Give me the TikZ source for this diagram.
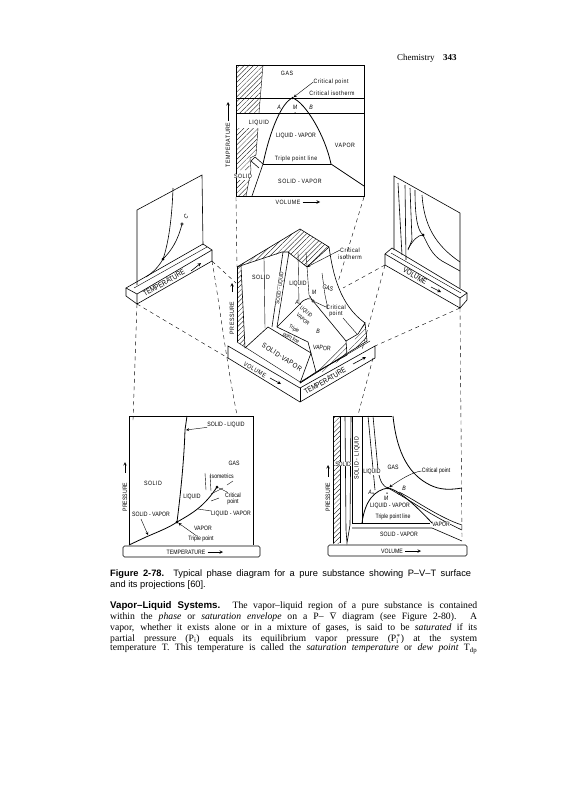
\documentclass[tikz,border=0pt]{standalone}
\usepackage{fontspec}
\setmainfont{Liberation Serif}
\setsansfont{Liberation Sans}
\newfontfamily\widefam[LetterSpace=8,FakeStretch=0.85]{Liberation Sans}
\newfontfamily\lblfam[FakeStretch=0.82]{Liberation Sans}
\usetikzlibrary{patterns.meta}
\tikzset{
  lbl/.style = {font = \lblfam\fontsize{6.3}{7}\selectfont, inner sep = 0pt},
  lblw/.style = {font = \widefam\fontsize{6.2}{7}\selectfont, inner sep = 0pt},
  lblit/.style = {font = \lblfam\itshape\fontsize{6.3}{7}\selectfont, inner sep = 0pt},
  lblbig/.style = {font = \lblfam\fontsize{7.6}{8}\selectfont, inner sep = 0pt},
  lblsm/.style = {font = \lblfam\fontsize{5.4}{6}\selectfont, inner sep = 0pt},
  page/.style = {anchor = west, inner sep = 0pt},
  hatch/.style = {pattern = {Lines[angle = 45, distance = 3.4pt, line width = 0.3pt]}, draw = none},
  ruled/.style = {line width = 0.6pt},
  thin rule/.style = {line width = 0.4pt},
  heavy/.style = {line width = 0.8pt},
  tag/.style = {->, line width = 0.6pt, shorten <= 2pt},
  guide/.style = {line width = 0.4pt, dash pattern = on 4pt off 3.5pt},
  pt/.style = {circle, fill = black, inner sep = 0pt, minimum size = 3pt}
}
\begin{document}
\begin{tikzpicture}[x = 1pt, y = -1pt, >=stealth]
\useasboundingbox (0,0) rectangle (566,800);
\node[anchor = west, inner sep = 0pt, font = \fontsize{9}{10}\selectfont] at (397,58) (head) {Chemistry};
\node[anchor = west, inner sep = 0pt, font = \bfseries\fontsize{9}{10}\selectfont] at (443,58) (pageno) {343};

% top panel
\fill[hatch] (236,65) -- (263,65) -- (259,113) -- (236,113) -- cycle;
\fill[hatch] (236,128) -- (258,128) -- (256,155) -- (250,158) -- (249,170) -- (236,170) -- cycle;
\fill[hatch] (236,180) -- (250,180) -- (246,196) -- (236,196) -- cycle;
\draw[ruled] (236,65) rectangle (364,196);
\draw[thin rule] (263,65) -- (259,113);
\draw[thin rule] (258,128) -- (256,155) -- (250,158) -- (251,170) -- (246,196);
\draw[heavy] (236,98) -- (364,98);
\draw[ruled] (236,113) -- (364,113);
\draw[heavy] (263,164) .. controls (270,130) and (282,102) .. (292.5,98) .. controls (305,102) and (325,135) .. (331,164) -- (364,186);
\draw[heavy] (263,164) -- (331,164);
\draw[ruled] (252,196) -- (263,164) -- (255,157) -- (251,161) -- (259,168);
\node[pt, minimum size = 2.5pt] at (292.5,98) (topcrit) {};
\node[pt, minimum size = 1.5pt] at (295,113) (topm) {};
\node[lblw] at (287,73) (topgas) {GAS};
\node[lblw] at (331,82) (topcp) {Critical point};
\node[lblw] at (332,93) (topci) {Critical isotherm};
\node[lblit] at (279,107) (topa) {A};
\node[lblit] at (295,107) (topmm) {M};
\node[lblit] at (311,107) (topb) {B};
\node[lblw, fill = white] at (259,123) (topliq) {LIQUID};
\node[lbl] at (296,136) (toplv) {LIQUID - VAPOR};
\node[lblw] at (345,145) (topvap) {VAPOR};
\node[lblw] at (296,159) (toptp) {Triple point line};
\node[lblw, fill = white] at (243,176) (topsol) {SOLID};
\node[lblw] at (300,181) (topsv) {SOLID - VAPOR};
\node[lblw] at (288,202) (topvol) {VOLUME};
\node[lblw, rotate = 90] at (228,145) (toptemp) {TEMPERATURE};
\coordinate (topvolend) at (320,202);
\coordinate (toptempend) at (228,102);
\draw[tag] (topvol) -- (topvolend);
\draw[tag] (toptemp) -- (toptempend);
\draw[->, thin rule] (topcp.west) -- (topcrit);

% guide lines
\coordinate (g1) at (236,197);
\coordinate (g2) at (237,267);
\coordinate (g3) at (364,197);
\coordinate (g4) at (338,282);
\coordinate (g5) at (212,261);
\coordinate (g6) at (236,283);
\coordinate (g7) at (237,415);
\coordinate (g8) at (137,304);
\coordinate (g9) at (133,420);
\coordinate (g10) at (228,358);
\coordinate (g11) at (385,265);
\coordinate (g12) at (343,288);
\coordinate (g13) at (362,350);
\coordinate (g14) at (460,308);
\coordinate (g15) at (375,346);
\coordinate (g16) at (462,540);
\coordinate (g17) at (373,358);
\coordinate (g18) at (358,415);
\draw[guide] (g1) -- (g2);
\draw[guide] (g3) -- (g4);
\draw[guide] (g5) -- (g6);
\draw[guide] (g5) .. controls (219,300) and (226,360) .. (g7);
\draw[guide] (g8) -- (g9);
\draw[guide] (g8) -- (g10);
\draw[guide] (g11) -- (g12);
\draw[guide] (g11) -- (g13);
\draw[guide] (g14) -- (g15);
\draw[guide] (g14) -- (g16);
\draw[guide] (g17) -- (g18);

% left wall
\draw[ruled] (137,285) -- (137,210) -- (202,175) -- (203,245);
\draw[ruled] (126,288) -- (203,244) -- (212,250) -- (137,294) -- cycle;
\draw[ruled] (137,294) -- (137,304) -- (212,261) -- (212,250);
\draw[ruled] (126,288) -- (126,296) -- (137,304);
\draw[thin rule] (134,288) -- (207,247);
\draw[ruled] (173,188) .. controls (172,220) and (168,245) .. (163,259) .. controls (158,268) and (152,273) .. (146,277);
\draw[ruled] (163,259) .. controls (172,250) and (178,240) .. (182,224);
\node[pt] at (163,259) (ltriple) {};
\node[circle, draw, fill = white, inner sep = 0pt, minimum size = 2.5pt] at (182,224) (lcrit) {};
\node[lblit, rotate = 45] at (186,217) (lc) {C};
\node[lblbig, rotate = 30] at (164,283) (ltemp) {TEMPERATURE};
\coordinate (ltempend) at (201,263);
\draw[->, ruled] (191,271) -- (ltempend);

% right wall
\draw[ruled] (394,250) -- (394,176) -- (460,213) -- (460,288);
\draw[ruled] (385,254) -- (392,248) -- (467,293) -- (460,298) -- cycle;
\draw[ruled] (385,254) -- (385,265) -- (460,308) -- (460,298);
\draw[ruled] (467,293) -- (467,300) -- (460,308);
\draw[thin rule] (391,253) -- (461,293);
\draw[ruled] (398,183) -- (402,255);
\draw[ruled] (405,185) -- (406,260);
\draw[ruled] (410,188) -- (412,240) -- (408,250);
\draw[ruled] (415,190) .. controls (415,215) and (417,230) .. (423,235);
\draw[ruled] (408,249) .. controls (413,240) and (418,235) .. (423,235) .. controls (428,245) and (432,255) .. (442,261) -- (460,271);
\draw[ruled] (422,195) .. controls (424,225) and (435,245) .. (460,262);
\node[pt] at (423,235) (rcrit) {};
\node[lblbig, rotate = -30] at (415,276) (rvol) {VOLUME};
\coordinate (rvolend) at (441,292);
\draw[->, ruled] (431,287) -- (rvolend);

% surface and base
\fill[hatch] (237,267) -- (300,229) -- (329,247) -- (307,267) -- (287,251) -- cycle;
\fill[hatch] (237,267) -- (241,266) -- (245,348) -- (237,342) -- cycle;
\fill[hatch] (358,334) -- (365,323) -- (367,341) -- (348,352) -- cycle;
\fill[hatch] (346,342) -- (347,355) -- (323,372) -- (316,372) -- cycle;
\draw[ruled] (237,267) -- (300,229) -- (329,247);
\draw[ruled] (237,267) -- (282,252) -- (288,252) -- (307,267);
\draw[ruled] (329,247) -- (307,267);
\draw[ruled] (237,267) -- (237,342);
\draw[ruled] (241,266) -- (245,348);
\draw[ruled] (228,346) -- (300,388) -- (375,346) -- (375,358) -- (300,402) -- (228,358) -- cycle;
\draw[ruled] (300,388) -- (300,402);
\draw[thin rule] (237,342) -- (300,382) -- (370,341);
\draw[ruled] (245,348) -- (268,327) -- (311,353) -- (300,383);
\draw[ruled] (277,327) -- (308,342);
\draw[ruled] (283,252) -- (272,327);
\draw[ruled] (289,252) -- (277,327);
\draw[thin rule] (264,258) -- (265,328);
\draw[thin rule] (298,252) -- (299,304);
\draw[thin rule] (306,252) -- (309,295) -- (313,301);
\draw[ruled] (329,247) .. controls (333,275) and (340,305) .. (365,323);
\draw[thin rule] (322,273) -- (325,295) -- (328,309);
\draw[thin rule] (343,318) -- (357,334);
\draw[ruled] (277,327) -- (300,304) .. controls (304,298) and (312,297) .. (313,301) -- (346,341) -- (347,355);
\draw[ruled] (308,342) -- (316,372) -- (300,383);
\draw[ruled] (316,372) -- (347,355);
\draw[ruled] (346,341) -- (358,334) -- (365,323) -- (367,341) -- (300,383);
\node[pt, minimum size = 1.5pt] at (300,304) (sa) {};
\node[pt, minimum size = 1.5pt] at (310,297) (sm) {};
\node[circle, draw, fill = white, inner sep = 0pt, minimum size = 2.5pt] at (313,301) (scrit) {};
\node[lblw] at (350,250) (sci1) {Critical};
\node[lblw] at (350,257) (sci2) {isotherm};
\node[lblw] at (336,307) (scp1) {Critical};
\node[lblw] at (336,314) (scp2) {point};
\node[lbl, rotate = -18, fill = white] at (328,288) (sgas) {GAS};
\node[lbl, fill = white] at (298,284) (sliq) {LIQUID};
\node[lblw] at (261,277) (ssol) {SOLID};
\node[lblsm, rotate = 82, fill = white] at (280,288) (ssl) {SOLID - LIQUID};
\node[lblit] at (314,292) (smm) {M};
\node[lblit] at (297,302) (saa) {A};
\node[lblit] at (318,331) (sb) {B};
\node[lblsm, rotate = -42] at (306,312) (slv1) {LIQUID};
\node[lblsm, rotate = -42] at (303,319) (slv2) {VAPOR};
\node[lblsm, rotate = -28] at (294,329) (stp1) {Triple};
\node[lblsm, rotate = -28] at (291,338) (stp2) {point line};
\node[lbl, rotate = -5] at (322,348) (svap) {VAPOR};
\node[lblw, rotate = -33, font = \widefam\fontsize{7}{8}\selectfont] at (282,357) (ssv) {SOLID-VAPOR};
\node[lblw, rotate = -30] at (255,370) (svol) {VOLUME};
\node[lblbig, rotate = 30] at (325,381) (stemp) {TEMPERATURE};
\node[lblw, rotate = 90] at (232,318) (spres) {PRESSURE};
\coordinate (svolend) at (281,384);
\coordinate (stempend) at (366,357);
\coordinate (spresend) at (232,283);
\draw[->, ruled] (270,378) -- (svolend);
\draw[->, ruled] (353,364) -- (stempend);
\draw[->, ruled] (232,292) -- (spresend);
\draw[->, thin rule] (sci1.west) -- (307,267);
\draw[thin rule] (scp1.west) -- (scrit);

% lower left panel
\draw[ruled] (129,545) -- (129,416) -- (253,416) -- (253,545);
\draw[ruled, rounded corners = 1.5pt] (123,546) rectangle (260,557);
\draw[heavy] (129,545) -- (146,537) .. controls (160,531) and (170,527) .. (177,522) .. controls (195,512) and (205,505) .. (217,487);
\draw[heavy] (177,522) .. controls (181,490) and (184,460) .. (185,430) -- (187,416);
\node[pt] at (177,522) (ptriple) {};
\node[pt] at (217,487) (pcrit) {};
\node[lbl] at (226,425) (psl) {SOLID - LIQUID};
\node[lbl] at (234,463) (pgas) {GAS};
\node[lbl] at (222,476) (piso) {Isometrics};
\node[lblw] at (153,483) (psol) {SOLID};
\node[lbl] at (192,497) (pliq) {LIQUID};
\node[lbl] at (233,495) (pcp1) {Critical};
\node[lbl] at (233,502) (pcp2) {point};
\node[lbl] at (151,514) (psv) {SOLID - VAPOR};
\node[lbl] at (231,514) (plv) {LIQUID - VAPOR};
\node[lbl] at (203,528) (pvap) {VAPOR};
\node[lbl] at (201,539) (ptp) {Triple point};
\node[lbl] at (186,552) (ptemp) {TEMPERATURE};
\node[lbl, rotate = 90] at (125,497) (ppres) {PRESSURE};
\coordinate (ptempend) at (223,552);
\coordinate (ppresstart) at (125,473);
\coordinate (ppresend) at (125,462);
\coordinate (psvend) at (148,535);
\coordinate (pslend) at (186,430);
\coordinate (plvend) at (198,509);
\draw[tag] (ptemp) -- (ptempend);
\draw[->, ruled] (ppresstart) -- (ppresend);
\draw[->, thin rule] (141,519) -- (psvend);
\draw[->, thin rule] (psl) -- (pslend);
\draw[->, thin rule] (ptp) -- (ptriple);
\draw[thin rule] (plv) -- (plvend);
\draw[thin rule] (pcp1) -- (pcrit);
\draw[thin rule] (205,473) -- (206,490);
\draw[thin rule] (210,475) -- (211,491);
\draw[thin rule] (227,485) -- (233,481);
\draw[thin rule] (211,501) -- (219,498);
\draw[thin rule] (211,494) -- (223,488);

% lower right panel
\fill[hatch] (333,416) -- (340,416) -- (340,543) -- (333,543) -- cycle;
\draw[ruled] (333,543) -- (333,416) -- (392,416);
\draw[ruled, rounded corners = 1.5pt] (328,545) rectangle (467,556);
\draw[ruled] (340,416) -- (340,543);
\draw[ruled] (345,416) -- (346,530) -- (347,543) -- (350,525) -- (351,416);
\draw[ruled] (352,416) -- (352,524);
\draw[ruled] (362,416) -- (362,523);
\draw[ruled] (368,416) -- (375,490);
\draw[ruled] (373,416) -- (378,470) .. controls (380,483) and (384,487) .. (388,488);
\draw[heavy] (393,416) .. controls (397,455) and (410,475) .. (430,485) .. controls (440,490) and (450,490) .. (462,488);
\draw[heavy] (362,523) .. controls (365,500) and (375,490) .. (388,488) .. controls (400,490) and (420,510) .. (432,523);
\draw[ruled] (352,523) -- (430,523);
\draw[ruled] (352,528) -- (432,528) -- (462,541);
\draw[ruled] (388,488) .. controls (410,500) and (430,515) .. (462,530);
\draw[ruled] (399,492) .. controls (415,500) and (440,518) .. (462,525);
\node[pt, minimum size = 2.5pt] at (388,488) (vcrit) {};
\node[pt, minimum size = 1.5pt] at (373,493) (va) {};
\node[pt, minimum size = 1.5pt] at (387,493) (vm) {};
\node[pt, minimum size = 1.5pt] at (399,494) (vb) {};
\node[lbl, fill = white] at (343,464) (vsol) {SOLID};
\node[lblw, rotate = 90, fill = white] at (357,458) (vsl) {SOLID - LIQUID};
\node[lbl, fill = white] at (372,472) (vliq) {LIQUID};
\node[lbl] at (393,467) (vgas) {GAS};
\node[lbl] at (436,471) (vcp) {Critical point};
\node[lblit] at (370,492) (vaa) {A};
\node[lblit] at (386,498) (vmm) {M};
\node[lblit] at (404,488) (vbb) {B};
\node[lbl, fill = white] at (390,506) (vlv) {LIQUID - VAPOR};
\node[lbl] at (393,517) (vtp) {Triple point line};
\node[lbl, fill = white] at (441,524) (vvap) {VAPOR};
\node[lbl] at (399,534) (vsv) {SOLID - VAPOR};
\node[lbl] at (392,551) (vvol) {VOLUME};
\node[lbl, rotate = 90] at (328,497) (vpres) {PRESSURE};
\coordinate (vvolend) at (421,551);
\coordinate (vpresstart) at (328,477);
\coordinate (vpresend) at (328,465);
\draw[tag] (vvol) -- (vvolend);
\draw[->, ruled] (vpresstart) -- (vpresend);
\draw[->, thin rule] (vcp.west) .. controls (412,472) and (400,480) .. (vcrit);

% caption and text
\node[page, font = \sffamily\fontsize{9.3}{10}\selectfont] at (110,574) (cap1) {\makebox[361pt][s]{\textbf{Figure 2-78.} Typical phase diagram for a pure substance showing P--V--T surface}};
\node[page, font = \sffamily\fontsize{9.3}{10}\selectfont] at (110,585) (cap2) {and its projections [60].};
\node[page, font = \fontsize{9.7}{10}\selectfont] at (110,606) (txt1) {\makebox[367pt][s]{\textsf{\textbf{Vapor--Liquid Systems.}} The vapor--liquid region of a pure substance is contained}};
\node[page, font = \fontsize{9.7}{10}\selectfont] at (110,617) (txt2) {\makebox[367pt][s]{within the \textit{phase} or \textit{saturation envelope} on a P-- \=V diagram (see Figure 2-80). A}};
\node[page, font = \fontsize{9.7}{10}\selectfont] at (110,628) (txt3) {\makebox[367pt][s]{vapor, whether it exists alone or in a mixture of gases, is said to be \textit{saturated} if its}};
\node[page, font = \fontsize{9.7}{10}\selectfont] at (110,639) (txt4) {\makebox[367pt][s]{partial pressure (P$_{\mathrm{i}}$) equals its equilibrium vapor pressure (P$_{\mathrm{i}}^{*}$) at the system}};
\node[page, font = \fontsize{9.7}{10}\selectfont] at (110,649) (txt5) {\makebox[367pt][s]{temperature T. This temperature is called the \textit{saturation temperature} or \textit{dew point} T$_{\mathrm{dp}}$}};
\end{tikzpicture}
\end{document}
